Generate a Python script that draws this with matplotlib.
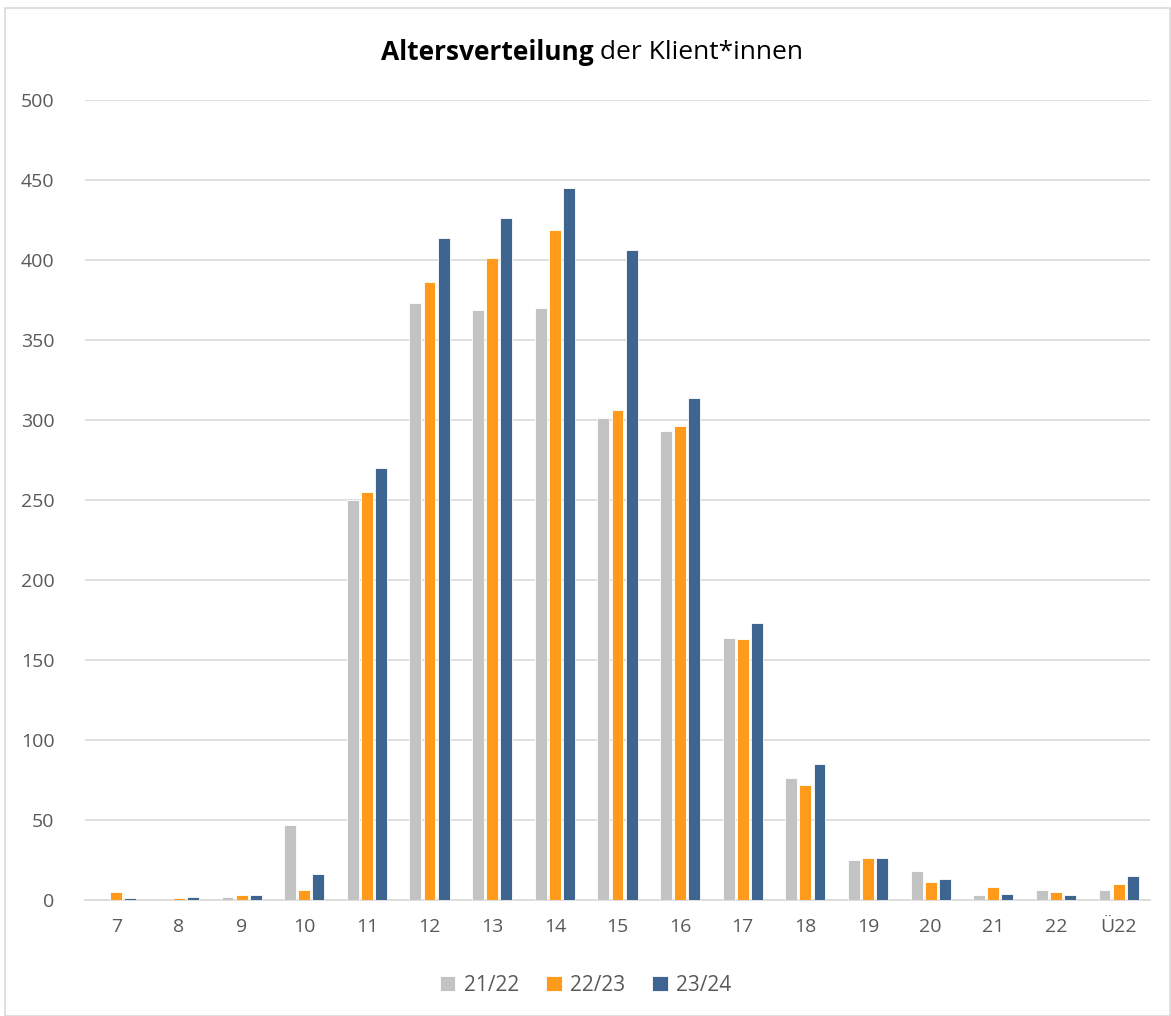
import numpy as np
import matplotlib
matplotlib.use('Agg')
from matplotlib import pyplot as plt
from matplotlib.patches import Rectangle

plt.rcParams['font.family'] = ['Open Sans', 'DejaVu Sans']

ages = ['7', '8', '9', '10', '11', '12', '13', '14', '15', '16', '17', '18',
        '19', '20', '21', '22', 'Ü22']
y2122 = [0, 0, 2, 47, 250, 373, 369, 370, 301, 293, 164, 76, 25, 18, 3, 6, 6]
y2223 = [5, 1, 3, 6, 255, 386, 401, 419, 306, 296, 163, 72, 26, 11, 8, 5, 10]
y2324 = [1, 2, 3, 16, 270, 414, 426, 445, 406, 314, 173, 85, 26, 13, 4, 3, 15]
series = ['21/22', '22/23', '23/24']
colors = ['#c3c3c3', '#ff9a1a', '#3d6590']

fig = plt.figure(figsize=(11.71, 10.16), dpi=100)
ax = fig.add_axes([0.0726, 0.1142, 0.9094, 0.7874])

x = np.arange(len(ages))
w = 0.19
off = 0.225
for i, (vals, lab, c) in enumerate(zip([y2122, y2223, y2324], series, colors)):
    ax.bar(x + (i - 1) * off, vals, w, color=c, label=lab, zorder=3,
           edgecolor='white', linewidth=0.6)

ax.set_xlim(-0.5, len(ages) - 0.5)
ax.set_ylim(0, 500)
ax.set_yticks(range(0, 501, 50))
ax.set_xticks(x)
ax.set_xticklabels(ages)
ax.grid(axis='y', color='#d9d9d9', linewidth=1.2, zorder=0)
ax.tick_params(length=0, labelsize=14, colors='#595959', pad=13)
ax.tick_params(axis='y', pad=22)
for s in ['top', 'right', 'left']:
    ax.spines[s].set_visible(False)
ax.spines['bottom'].set_color('#d9d9d9')
ax.spines['bottom'].set_linewidth(1.2)

leg = fig.legend(loc='center', bbox_to_anchor=(0.5, 0.03), ncol=3, frameon=False,
                 fontsize=15, handlelength=0.75, handleheight=0.75,
                 columnspacing=1.3, handletextpad=0.4)
for t in leg.get_texts():
    t.set_color('#595959')

# title: bold part + regular part, centred together
fig.canvas.draw()
r = fig.canvas.get_renderer()
t1 = fig.text(0, 0.948, 'Altersverteilung', fontsize=19, fontweight='bold',
              va='center', ha='left')
t2 = fig.text(0, 0.948, ' der Klient*innen', fontsize=19, va='center', ha='left')
w1 = t1.get_window_extent(r).width
w2 = t2.get_window_extent(r).width
W = fig.bbox.width
start = (592 - (w1 + w2) / 2) / W
t1.set_x(start)
t2.set_x(start + w1 / W)

fig.patches.append(Rectangle((0.004, 0.0), 0.995, 0.992, transform=fig.transFigure,
                             fill=False, edgecolor='#d9d9d9', linewidth=1.2))

fig.savefig('out.png', dpi=100)
